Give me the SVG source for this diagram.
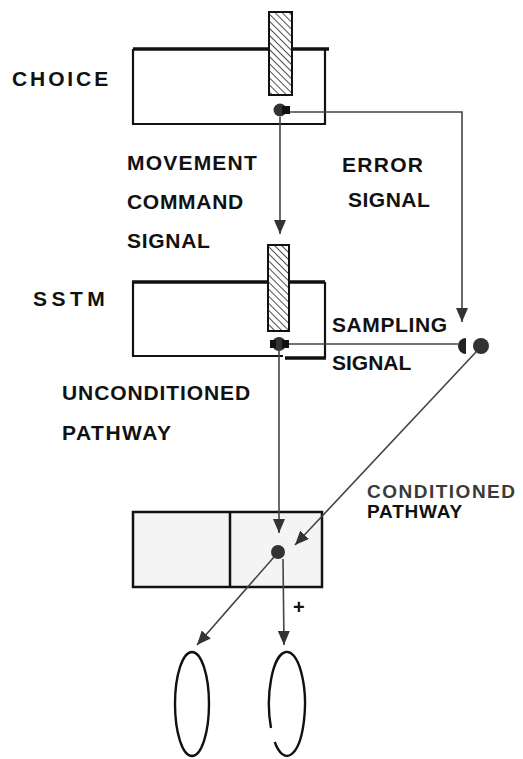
<svg xmlns="http://www.w3.org/2000/svg" width="523" height="759" viewBox="0 0 523 759">
<defs>
<style>
.t{font-family:"Liberation Sans",Arial,sans-serif;font-weight:bold;font-size:21px;fill:#111}
.box{fill:#fff;stroke:#111;stroke-width:2.2}
.top{stroke:#111;stroke-width:3.5;fill:none}
.con{stroke:#444;stroke-width:1.6;fill:none}
.dot{fill:#333}
.bar{fill:url(#hatch);stroke:#111;stroke-width:2}
.ell{fill:#fff;stroke:#111;stroke-width:2.4}
</style>
<pattern id="hatch" patternUnits="userSpaceOnUse" width="5" height="5" patternTransform="rotate(-45)">
<rect width="5" height="5" fill="#fff"/>
<line x1="0" y1="0" x2="0" y2="5" stroke="#222" stroke-width="1.6"/>
</pattern>
<marker id="arr" viewBox="0 0 14 12" refX="14" refY="6" markerWidth="14" markerHeight="12" markerUnits="userSpaceOnUse" orient="auto">
<path d="M0,0 L14,6 L0,12 z" fill="#333"/>
</marker>
</defs>

<g id="choice">
<path class="box" d="M133,49 L133,124 L325,124 L325,49"/>
<line class="top" x1="133" y1="49" x2="329" y2="49"/>
<rect class="bar" x="269" y="12" width="23" height="83"/>
<circle class="dot" cx="280" cy="110" r="6.5"/>
<rect x="282" y="106" width="8" height="8" fill="#111"/>
<text class="t" x="12" y="86" letter-spacing="2.9">CHOICE</text>
</g>

<g id="sstm">
<path class="box" d="M133,282 L133,356 L283,356"/>
<path class="box" d="M325,282 L325,358"/>
<line x1="285" y1="358" x2="326" y2="358" stroke="#111" stroke-width="3.5"/>
<line class="top" x1="132" y1="282" x2="325" y2="282"/>
<rect class="bar" x="268" y="245" width="21" height="86"/>
<circle class="dot" cx="279" cy="344" r="7"/>
<rect x="270" y="340" width="6" height="8" fill="#111"/>
<rect x="282" y="340" width="7" height="8" fill="#111"/>
<text class="t" x="33" y="306" letter-spacing="4.5">SSTM</text>
</g>

<g id="gate">
<path d="M466,338 A8,8 0 0 0 466,354 Z" fill="#222"/>
<circle class="dot" cx="481" cy="346" r="8"/>
</g>

<g id="output">
<rect x="133" y="512" width="189" height="75" fill="#f4f4f4" stroke="#111" stroke-width="2.5"/>
<line x1="230" y1="512" x2="230" y2="587" stroke="#111" stroke-width="2.5"/>
<circle class="dot" cx="278" cy="552" r="7"/>
</g>

<g id="ellipse-left">
<ellipse class="ell" cx="192" cy="704" rx="17" ry="52"/>
</g>
<g id="ellipse-right">
<path class="ell" d="M274.7,742 A18,52 0 1 0 271,728"/>
</g>

<g id="connectors">
<line class="con" x1="280" y1="117" x2="280" y2="234" marker-end="url(#arr)"/>
<path class="con" d="M290,112 L462,112 L462,322" marker-end="url(#arr)"/>
<line class="con" x1="289" y1="344" x2="458" y2="344"/>
<line class="con" x1="279" y1="351" x2="279" y2="533" marker-end="url(#arr)"/>
<line class="con" x1="476" y1="352" x2="295" y2="545" marker-end="url(#arr)"/>
<line class="con" x1="274" y1="557" x2="197" y2="645" marker-end="url(#arr)"/>
<line class="con" x1="283" y1="559" x2="284" y2="645" marker-end="url(#arr)"/>
</g>

<g id="labels">
<text class="t" x="127" y="170" letter-spacing="1.2">MOVEMENT</text>
<text class="t" x="127" y="209" letter-spacing="0.7">COMMAND</text>
<text class="t" x="127" y="248" letter-spacing="0.7">SIGNAL</text>
<text class="t" x="342" y="172" letter-spacing="1.3">ERROR</text>
<text class="t" x="348" y="207" letter-spacing="0.5">SIGNAL</text>
<text class="t" x="332" y="332" letter-spacing="0.6">SAMPLING</text>
<text class="t" x="332" y="370" letter-spacing="0">SIGNAL</text>
<text class="t" x="62" y="400" letter-spacing="0.9">UNCONDITIONED</text>
<text class="t" x="62" y="440" letter-spacing="1.5">PATHWAY</text>
<text class="t" x="367" y="498" style="font-size:19px;fill:#3a3a3a" letter-spacing="1.5">CONDITIONED</text>
<text class="t" x="367" y="518" style="font-size:19px" letter-spacing="0.8">PATHWAY</text>
<text class="t" x="293" y="614" style="font-size:20px">+</text>
</g>
</svg>
